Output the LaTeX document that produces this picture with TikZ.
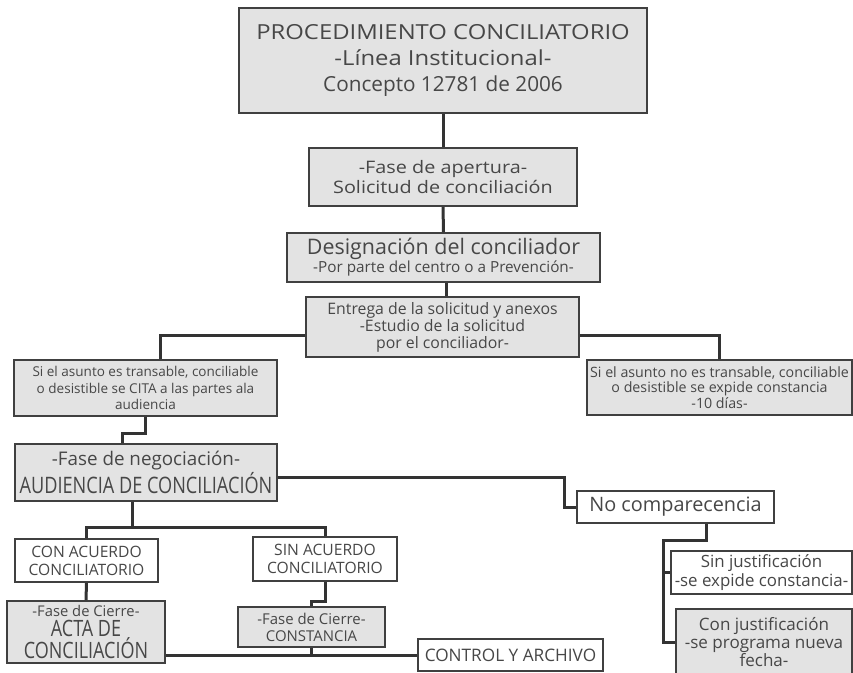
\documentclass[tikz,border=0pt]{standalone}
\usepackage{fontspec}
\setmainfont{Open Sans}
\newfontfamily\estrecha{Open Sans}[FakeStretch=0.8]
\newfontfamily\ancha{Open Sans}[FakeStretch=1.15]
\tikzset{
  caja/.style={draw=black!75, line width=0.035cm, fill=black!11, text=black!72,
    align=center, inner sep=0pt},
  cajablanca/.style={caja, fill=white},
  linea/.style={draw=black!80, line width=0.06cm}
}
\begin{document}
\begin{tikzpicture}
\useasboundingbox (0,0) rectangle (17.06,-13.44);

% Marking box titulo
\node[caja, minimum width=8.16cm, minimum height=2.10cm, font=\fontsize{11.8}{15}\selectfont]
  (titulo) at (8.86,-1.21) {{\ancha PROCEDIMIENTO CONCILIATORIO}\\
  {\ancha -Línea Institucional-}\\Concepto 12781 de 2006};

% Marking box apertura
\node[caja, minimum width=5.36cm, minimum height=1.16cm, font=\ancha\fontsize{9.8}{11.3}\selectfont]
  (apertura) at (8.86,-3.54) {-Fase de apertura-\\Solicitud de conciliación};

% Marking box designacion
\node[caja, minimum width=6.26cm, minimum height=0.98cm, font=\fontsize{12.2}{10.2}\selectfont]
  (designacion) at (8.87,-5.15) {Designación del conciliador\\
  {\fontsize{8.7}{10.2}\selectfont -Por parte del centro o a Prevención-}};

% Marking box entrega
\node[caja, minimum width=5.46cm, minimum height=1.20cm, font=\fontsize{9}{9.7}\selectfont]
  (entrega) at (8.85,-6.54) {Entrega de la solicitud y anexos\\-Estudio de la solicitud\\por el conciliador-};

% Marking box transable
\node[caja, minimum width=5.26cm, minimum height=1.12cm, font=\fontsize{7.7}{9.4}\selectfont]
  (transable) at (2.91,-7.76) {Si el asunto es transable, conciliable\\o desistible se CITA a las partes ala\\audiencia};

% Marking box notransable
\node[caja, minimum width=5.30cm, minimum height=1.10cm, font=\fontsize{8.1}{9}\selectfont]
  (notransable) at (14.39,-7.75) {Si el asunto no es transable, conciliable\\o desistible se expide constancia\\-10 días-};

% Marking box negociacion
\node[caja, minimum width=5.24cm, minimum height=1.14cm, font=\fontsize{10.7}{13.6}\selectfont]
  (negociacion) at (2.92,-9.45) {-Fase de negociación-\\{\estrecha\fontsize{12.9}{13.6}\selectfont AUDIENCIA DE CONCILIACIÓN}};

% Marking box nocomp
\node[cajablanca, minimum width=3.94cm, minimum height=0.64cm, font=\fontsize{11.3}{13}\selectfont]
  (nocomp) at (13.51,-10.14) {No comparecencia};

% Marking box conacuerdo
\node[cajablanca, minimum width=2.86cm, minimum height=0.86cm, font=\fontsize{8.9}{10.2}\selectfont]
  (conacuerdo) at (1.73,-11.21) {CON ACUERDO\\CONCILIATORIO};

% Marking box sinacuerdo
\node[cajablanca, minimum width=2.88cm, minimum height=0.88cm, font=\fontsize{8.9}{10.2}\selectfont]
  (sinacuerdo) at (6.50,-11.18) {SIN ACUERDO\\CONCILIATORIO};

% Marking box acta
\node[caja, minimum width=3.16cm, minimum height=1.24cm, font=\fontsize{8.4}{11.4}\selectfont]
  (acta) at (1.72,-12.64) {-Fase de Cierre-\\{\estrecha\fontsize{12.8}{11.4}\selectfont ACTA DE}\\
  {\estrecha\fontsize{12.8}{11.4}\selectfont CONCILIACIÓN}};

% Marking box constancia
\node[caja, minimum width=2.94cm, minimum height=0.80cm, font=\fontsize{8.5}{9.6}\selectfont]
  (constancia) at (6.23,-12.54) {-Fase de Cierre-\\CONSTANCIA};

% Marking box archivo
\node[cajablanca, minimum width=3.70cm, minimum height=0.64cm, font=\fontsize{9.8}{11}\selectfont]
  (archivo) at (10.21,-13.10) {CONTROL Y ARCHIVO};

% Marking box sinjust
\node[cajablanca, minimum width=3.62cm, minimum height=0.86cm, font=\fontsize{9.6}{9.2}\selectfont]
  (sinjust) at (15.23,-11.45) {Sin justificación\\-se expide constancia-};

% Marking box conjust
\node[caja, minimum width=3.52cm, minimum height=1.32cm, font=\fontsize{9.7}{10.5}\selectfont]
  (conjust) at (15.28,-12.84) {Con justificación\\-se programa nueva\\fecha-};

% Drawing connectors of the opening phase
\draw[linea] (titulo.south) -- (apertura.north);
\draw[linea] (apertura.south) -- (designacion.north);
\draw[linea] ([xshift=0.06cm]designacion.south) -- ([xshift=0.06cm]designacion.south |- entrega.north);
\draw[linea] ([yshift=-0.16cm]entrega.west) -| ([xshift=0.29cm]transable.north);
\draw[linea] ([yshift=-0.16cm]entrega.east) -| (notransable.north);

% Drawing connectors of the negotiation phase
\draw[linea] (transable.south) -- ++(0,-0.34) -| ([xshift=-0.48cm]negociacion.north);
\draw[linea] ([yshift=-0.09cm]negociacion.east) -- ++(5.74,0) |- (nocomp.west);
\draw[linea] ([xshift=0.61cm]nocomp.south) -- ++(0,-0.34) -- ++(-0.86,0) |- (conjust.west);
\draw[linea] (sinjust.west) -- ++(-0.16,0);
\draw[linea] ([xshift=-0.28cm]negociacion.south) -- ++(0,-0.54);
\draw[linea] (conacuerdo.north) -- ++(0,0.22) -| (sinacuerdo.north);

% Drawing connectors of the closing phase
\draw[linea] (conacuerdo.south) -- (acta.north);
\draw[linea] (sinacuerdo.south) -- ++(0,-0.40) -| (constancia.north);
\draw[linea] (archivo.west) -- (archivo.west -| acta.east);
\draw[linea] (constancia.south) -- (constancia.south |- archivo.west);
\end{tikzpicture}
\end{document}
